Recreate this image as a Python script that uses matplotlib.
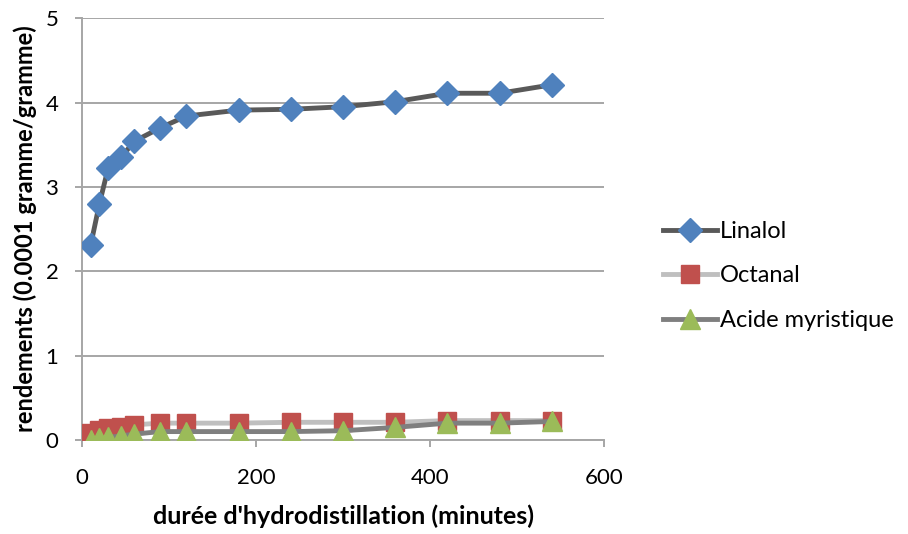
import matplotlib
matplotlib.use("Agg")
from matplotlib import pyplot as plt

# temps d'hydrodistillation (minutes)
minutes = [10, 20, 30, 45, 60, 90, 120, 180, 240, 300, 360, 420, 480, 540]

linalol = [2.31, 2.80, 3.22, 3.35, 3.54, 3.70, 3.84, 3.91, 3.92, 3.95, 4.01, 4.11, 4.11, 4.21]
octanal = [0.08, 0.12, 0.14, 0.16, 0.18, 0.20, 0.20, 0.20, 0.21, 0.21, 0.21, 0.23, 0.23, 0.23]
acide = [0.0, 0.02, 0.03, 0.05, 0.07, 0.10, 0.10, 0.10, 0.10, 0.11, 0.15, 0.20, 0.20, 0.22]

plt.rcParams['font.family'] = ['Lato', 'DejaVu Sans']

fig = plt.figure(figsize=(9.08, 5.34), dpi=100)
ax = fig.add_axes([0.0903, 0.176, 0.575, 0.79])

ax.plot(minutes, linalol, color="#595959", linewidth=3.5, marker="D", markersize=12,
        markerfacecolor="#4F81BD", markeredgecolor="#4F81BD", label="Linalol", zorder=4)
ax.plot(minutes, octanal, color="#BFBFBF", linewidth=3.5, marker="s", markersize=13,
        markerfacecolor="#C0504D", markeredgecolor="#C0504D", label="Octanal", zorder=3)
ax.plot(minutes, acide, color="#7F7F7F", linewidth=3.5, marker="^", markersize=14,
        markerfacecolor="#9BBB59", markeredgecolor="#9BBB59", label="Acide myristique", zorder=5)

ax.set_xlim(0, 600)
ax.set_ylim(0, 5)
ax.set_xticks([0, 200, 400, 600])
ax.set_yticks([0, 1, 2, 3, 4, 5])
ax.grid(True, axis="y", color="#A6A6A6", linewidth=1.4)
ax.set_axisbelow(True)
for s in ["top", "right"]:
    ax.spines[s].set_visible(False)
for s in ["left", "bottom"]:
    ax.spines[s].set_color("#A6A6A6")
    ax.spines[s].set_linewidth(1.4)
ax.tick_params(axis="both", colors="#A6A6A6", length=5, width=1.4, labelsize=16, labelcolor="black")
ax.tick_params(axis="x", pad=15)
ax.tick_params(axis="y", pad=12)

ax.set_xlabel("durée d'hydrodistillation (minutes)", fontsize=18, fontweight="bold", labelpad=12)
ax.set_ylabel("rendements (0.0001 gramme/gramme)", fontsize=17, fontweight="bold", labelpad=6)

ax.legend(loc="center left", bbox_to_anchor=(1.113, 0.389), frameon=False, fontsize=17,
          handlelength=2.3, labelspacing=1.0, handletextpad=0.1,
          borderaxespad=0, borderpad=0)

fig.savefig("out.png", dpi=100)
